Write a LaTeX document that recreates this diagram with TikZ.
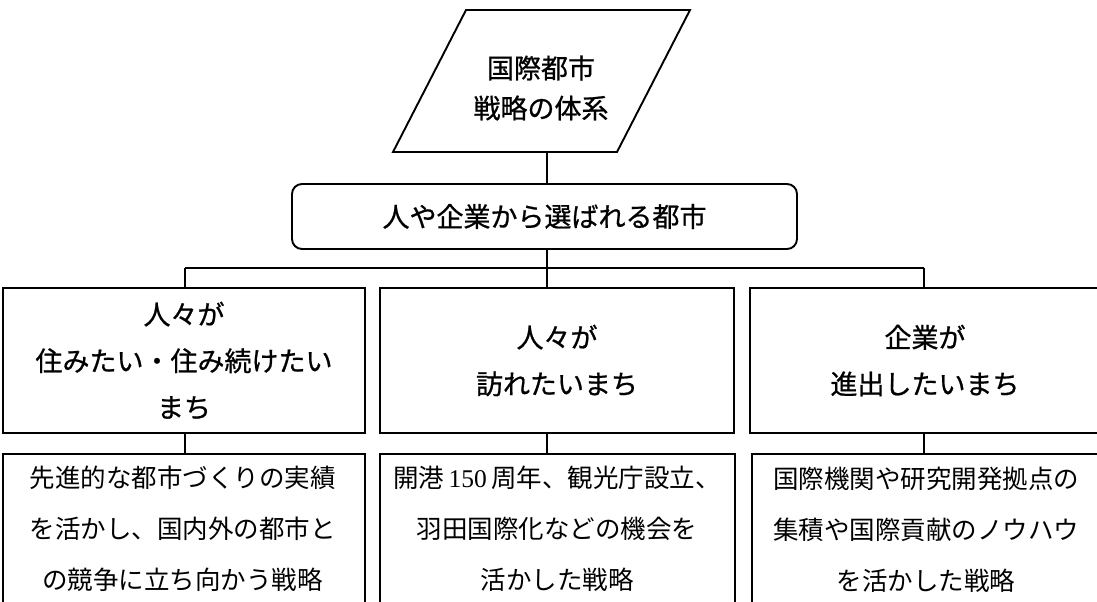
\documentclass[tikz,border=0pt]{standalone}
\usepackage{fontspec}
\newfontfamily\jp{Noto Sans CJK JP}
\newfontfamily\jpb[FakeBold=0.8]{Noto Sans CJK JP}
\newfontfamily\numfont{Liberation Serif}
\begin{document}
\begin{tikzpicture}[x=1pt,y=-1pt,line width=1.9pt,
  box/.style={draw,rectangle,inner sep=0pt,font=\jpb\fontsize{27}{46.5}\selectfont,align=center},
  titletext/.style={font=\jpb\fontsize{27}{40}\selectfont,align=center,inner sep=0pt},
  body/.style={font=\jp\fontsize{25.5}{51}\selectfont,align=center,inner sep=0pt},
  link/.style={draw,line width=1.9pt}]
\path[use as bounding box,clip] (0,0) rectangle (1097,602);
% coordinates for connector columns
\coordinate (xL) at (185,0);
\coordinate (xM) at (547,0);
\coordinate (xR) at (924,0);
% parallelogram
\draw (466,10) -- (690,10) -- (617,152) -- (393,152) -- cycle;
\node[titletext] (title) at (541,88) {国際都市\\戦略の体系};
\coordinate (paraB) at (547,152);
% main rounded box
\node[box,rounded corners=10pt,minimum width=505pt,minimum height=65pt] (city) at (544.5,216.5) {人や企業から選ばれる都市};
\coordinate (bus) at (547,268);
% upper boxes
\node[box,minimum width=362pt,minimum height=145pt] (uL) at (184,360.5) {人々が\\住みたい・住み続けたい\\まち};
\node[box,minimum width=354pt,minimum height=145pt] (uM) at (557,360.5) {人々が\\訪れたいまち};
\node[box,minimum width=350pt,minimum height=145pt] (uR) at (925,360.5) {企業が\\進出したいまち};
% lower boxes
\node[box,minimum width=362pt,minimum height=166pt] (lL) at (184,537) {};
\node[box,minimum width=355pt,minimum height=166pt] (lM) at (557.5,537) {};
\node[box,minimum width=348pt,minimum height=166pt] (lR) at (926,537) {};
\node[body] (tL) at (182.5,529) {先進的な都市づくりの実績\\を活かし、国内外の都市と\\の競争に立ち向かう戦略};
\node[body] (tM) at (557,529) {開港{\numfont\,150\,}周年、観光庁設立、\\羽田国際化などの機会を\\活かした戦略};
\node[body] (tR) at (926,530) {国際機関や研究開発拠点の\\集積や国際貢献のノウハウ\\を活かした戦略};
% connectors
\draw[link] (paraB) -- (city.north -| xM);
\draw[link] (city.south -| xM) -- (bus);
\draw[link] (bus -| xL) -- (bus -| xR);
\draw[link] (bus -| xL) -- (uL.north -| xL);
\draw[link] (bus -| xM) -- (uM.north -| xM);
\draw[link] (bus -| xR) -- (uR.north -| xR);
\draw[link] (uL.south -| xL) -- (lL.north -| xL);
\draw[link] (uM.south -| xM) -- (lM.north -| xM);
\draw[link] (uR.south -| xR) -- (lR.north -| xR);
\end{tikzpicture}
\end{document}
